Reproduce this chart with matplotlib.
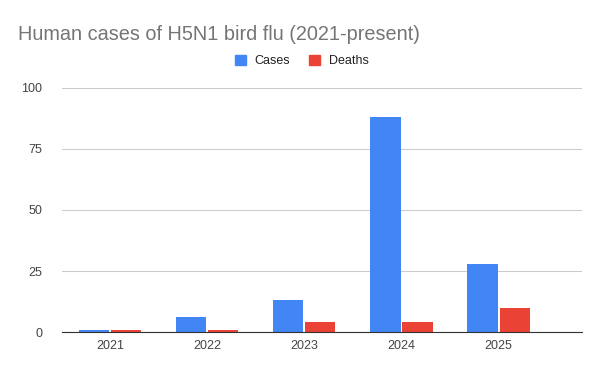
import numpy as np
import matplotlib.pyplot as plt
from matplotlib.patches import Patch

plt.rcParams['font.family'] = ['Liberation Sans', 'DejaVu Sans']

# Datos
years = ['2021', '2022', '2023', '2024', '2025']
cases = [1, 6, 13, 88, 28]
deaths = [1, 1, 4, 4, 10]

blue = '#4285f4'
red = '#ea4335'

fig = plt.figure(figsize=(6, 3.71), dpi=100)
ax = fig.add_axes([0.103, 0.105, 0.867, 0.658])

x = np.arange(len(years))
w = 0.31
ax.bar(x - w / 2 - 0.01, cases, w, color=blue, zorder=3)
ax.bar(x + w / 2 + 0.01, deaths, w, color=red, zorder=3)

ax.set_ylim(0, 100)
ax.set_xlim(-0.5, 4.86)
ax.set_yticks([0, 25, 50, 75, 100])
ax.set_xticks(x)
ax.set_xticklabels(years)
ax.grid(axis='y', color='#cccccc', linewidth=0.8, zorder=0)
for s in ['top', 'right', 'left']:
    ax.spines[s].set_visible(False)
ax.spines['bottom'].set_color('#333333')
ax.spines['bottom'].set_zorder(4)
ax.tick_params(axis='both', length=0, labelsize=9, colors='#444444')
ax.tick_params(axis='y', pad=14)
ax.tick_params(axis='x', pad=6)

fig.text(0.03, 0.908, 'Human cases of H5N1 bird flu (2021-present)',
         fontsize=14.3, color='#757575', va='center')

handles = [Patch(color=blue, label='Cases'), Patch(color=red, label='Deaths')]
fig.legend(handles=handles, loc='center', bbox_to_anchor=(0.503, 0.835), ncol=2,
           frameon=False, fontsize=9, handlelength=0.9, handleheight=0.9,
           columnspacing=1.5, handletextpad=0.7, labelcolor='#222222')

fig.savefig('out.png', dpi=100)
